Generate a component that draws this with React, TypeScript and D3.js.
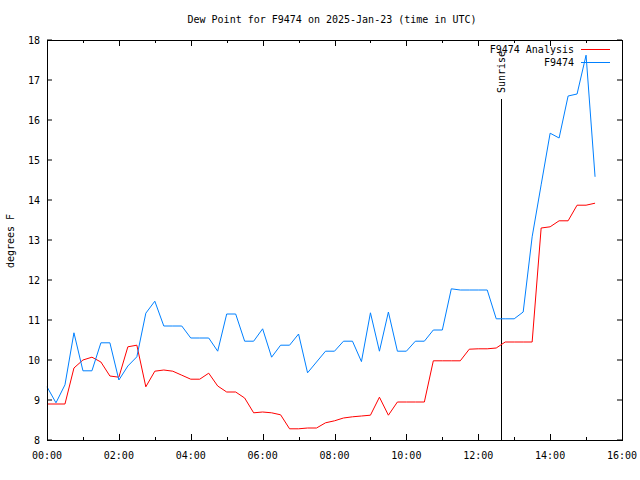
import React from "react";
import * as d3 from "d3";

const title = "Dew Point for F9474 on 2025-Jan-23 (time in UTC)";
const yLabel = "degrees F";
const seriesNames = ["F9474 Analysis", "F9474"];
const stepHours = 0.25;
const sunriseHour = 12.64;
const yTicks = [8, 9, 10, 11, 12, 13, 14, 15, 16, 17, 18];
const xTickHours = [0, 1, 2, 3, 4, 5, 6, 7, 8, 9, 10, 11, 12, 13, 14, 15, 16];

const analysisValues = [
  8.9, 8.9, 8.9, 9.8, 10.0, 10.07, 9.95, 9.6, 9.57, 10.33,
  10.37, 9.33, 9.72, 9.75, 9.72, 9.62, 9.52, 9.52, 9.67, 9.35,
  9.2, 9.2, 9.05, 8.68, 8.7, 8.68, 8.63, 8.28, 8.28, 8.3,
  8.3, 8.43, 8.48, 8.55, 8.58, 8.6, 8.62, 9.07, 8.62, 8.95,
  8.95, 8.95, 8.95, 9.98, 9.98, 9.98, 9.98, 10.27, 10.28, 10.28,
  10.3, 10.45, 10.45, 10.45, 10.45, 13.3, 13.33, 13.48, 13.48, 13.87,
  13.87, 13.92,
];

const stationValues = [
  9.33, 8.93, 9.38, 10.68, 9.73, 9.73, 10.43, 10.43, 9.5, 9.85,
  10.08, 11.17, 11.47, 10.85, 10.85, 10.85, 10.55, 10.55, 10.55, 10.22,
  11.15, 11.15, 10.47, 10.47, 10.78, 10.07, 10.37, 10.37, 10.65, 9.68,
  9.95, 10.22, 10.22, 10.47, 10.47, 9.96, 11.18, 10.22, 11.2, 10.22,
  10.22, 10.47, 10.47, 10.75, 10.75, 11.78, 11.75, 11.75, 11.75, 11.75,
  11.03, 11.03, 11.03, 11.2, 13.08, 14.38, 15.67, 15.55, 16.6, 16.65,
  17.62, 14.58,
];

const colors = ["#ff0000", "#0080ff"];
const FONT = "'DejaVu Sans Mono', monospace";

export default function App() {
  const W = 640, H = 480;
  const left = 47, right = 622, top = 40, bottom = 440;
  const x = d3.scaleLinear().domain([0, 16]).range([left, right]);
  const y = d3.scaleLinear().domain([8, 18]).range([bottom, top]);

  const line = d3
    .line<number>()
    .x((_, i) => x(i * stepHours))
    .y((d) => y(d));

  const fmt = (h: number) => `${String(h).padStart(2, "0")}:00`;
  const sx = x(sunriseHour);

  return (
    <svg
      width={W}
      height={H}
      style={{ position: "fixed", left: 0, top: 0, background: "#fff" }}
      fontFamily={FONT}
      fontSize={10}
    >
      <rect x={0} y={0} width={W} height={H} fill="#fff" />
      <text x={332} y={23} textAnchor="middle" fill="#000">{title}</text>

      {/* y ticks */}
      {yTicks.map((t) => (
        <g key={"y" + t}>
          <line x1={left} x2={left + 5} y1={y(t)} y2={y(t)} stroke="#000" />
          <line x1={right} x2={right - 5} y1={y(t)} y2={y(t)} stroke="#000" />
          <text x={40} y={y(t) + 4} textAnchor="end" fill="#000">{t}</text>
        </g>
      ))}

      {/* x ticks */}
      {xTickHours.map((h) => {
        const major = h % 2 === 0;
        const len = major ? 6 : 3;
        const px = Math.round(x(h)) + 0.5;
        return (
          <g key={"x" + h}>
            <line x1={px} x2={px} y1={bottom} y2={bottom - len} stroke="#000" />
            <line x1={px} x2={px} y1={top} y2={top + len} stroke="#000" />
            {major && (
              <text x={x(h)} y={459} textAnchor="middle" fill="#000">{fmt(h)}</text>
            )}
          </g>
        );
      })}

      <text
        transform={`translate(14,241) rotate(-90)`}
        textAnchor="middle"
        fill="#000"
      >
        {yLabel}
      </text>

      {/* sunrise */}
      <line x1={Math.round(sx) + 0.5} x2={Math.round(sx) + 0.5} y1={99} y2={bottom} stroke="#000" />
      <text
        transform={`translate(${sx + 4},93) rotate(-90)`}
        textAnchor="start"
        fill="#000"
      >
        Sunrise
      </text>

      {/* series */}
      <path d={line(analysisValues) || ""} fill="none" stroke={colors[0]} strokeWidth={1} />
      <path d={line(stationValues) || ""} fill="none" stroke={colors[1]} strokeWidth={1} />

      {/* legend */}
      {seriesNames.map((n, i) => (
        <g key={n}>
          <text x={574} y={53 + i * 13} textAnchor="end" fill="#000">{n}</text>
          <line x1={581} x2={610} y1={49.5 + i * 13} y2={49.5 + i * 13} stroke={colors[i]} />
        </g>
      ))}

      {/* frame */}
      <rect x={left + 0.5} y={top + 0.5} width={right - left} height={bottom - top} fill="none" stroke="#000" />
    </svg>
  );
}
